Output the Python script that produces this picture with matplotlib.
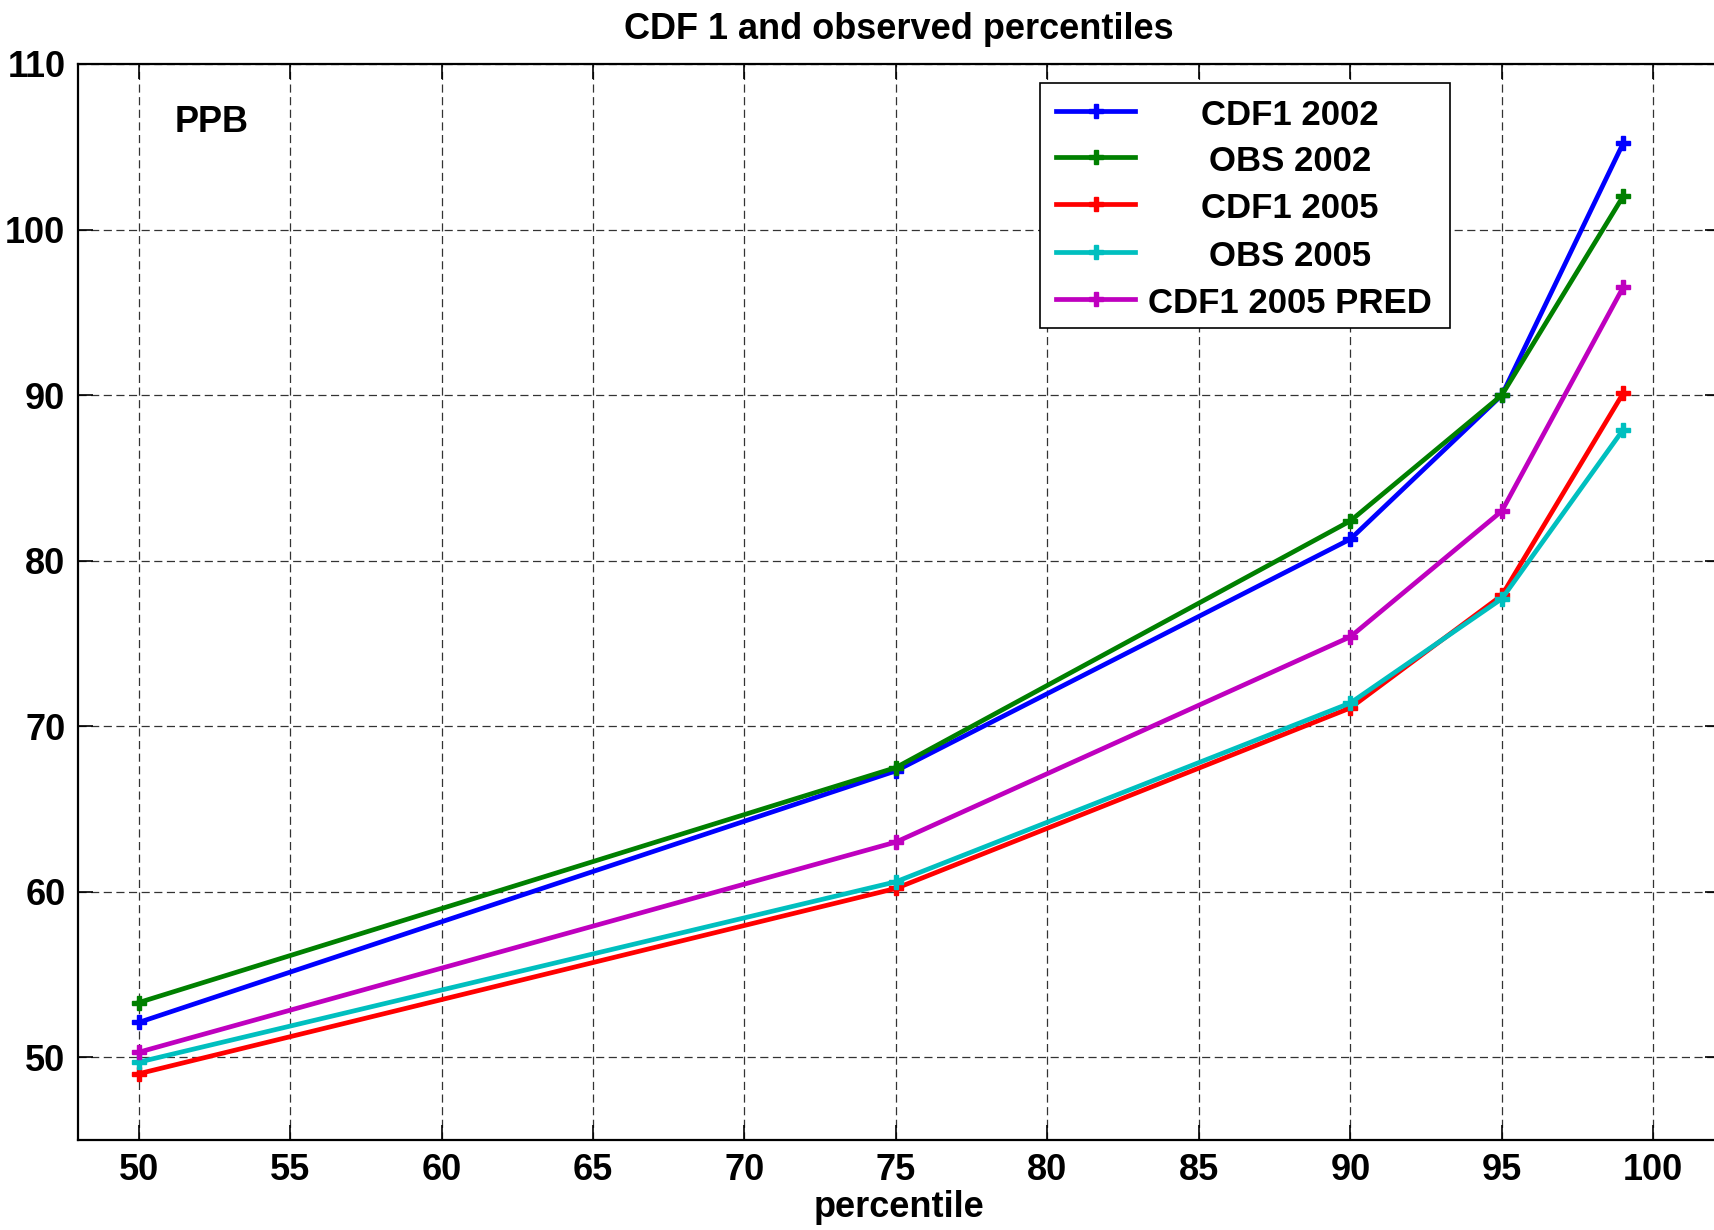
import matplotlib
matplotlib.use('Agg')
import matplotlib.pyplot as plt
from matplotlib.lines import Line2D
from matplotlib.patches import Rectangle

# percentile levels and ozone values (ppb)
pct = [50, 75, 90, 95, 99]
cdf1_2002 = [52.1, 67.3, 81.3, 90.0, 105.2]
obs_2002 = [53.3, 67.5, 82.4, 90.0, 102.0]
cdf1_2005 = [49.0, 60.2, 71.1, 77.9, 90.1]
obs_2005 = [49.7, 60.6, 71.4, 77.7, 87.9]
cdf1_2005_pred = [50.3, 63.0, 75.4, 83.0, 96.5]

names = ['CDF1 2002', 'OBS 2002', 'CDF1 2005', 'OBS 2005', 'CDF1 2005 PRED']
colors = ['#0000ff', '#008000', '#ff0000', '#00bfbf', '#bf00bf']
series = [cdf1_2002, obs_2002, cdf1_2005, obs_2005, cdf1_2005_pred]

xticks = [50, 55, 60, 65, 70, 75, 80, 85, 90, 95, 100]
yticks = [50, 60, 70, 80, 90, 100, 110]

plt.rcParams['font.family'] = ['Liberation Sans', 'DejaVu Sans']
plt.rcParams['font.weight'] = 'bold'
plt.rcParams['font.size'] = 26

W, H = 1715, 1230
fig = plt.figure(figsize=(W / 100, H / 100), dpi=100)
ax = fig.add_axes([78 / W, (H - 1140) / H, (1720 - 78) / W, (1140 - 64) / H])

for vals, c in zip(series, colors):
    ax.plot(pct, vals, color=c, lw=3.4, marker='P', ms=10.5, mec=c, mfc=c, zorder=3)

ax.set_xlim(48, 102.2)
ax.set_ylim(45, 110)
ax.set_xticks(xticks)
ax.set_yticks(yticks)
ax.grid(True, color='#333333', lw=0.9, linestyle=(0, (6.5, 3.6)))
ax.tick_params(direction='in', length=11, width=1.2, top=True, right=True, pad=9,
               labelsize=26)
for s in ax.spines.values():
    s.set_linewidth(1.6)

ax.set_title('CDF 1 and observed percentiles', fontsize=26, fontweight='bold', pad=18)
ax.set_xlabel('percentile', fontsize=26, fontweight='bold', labelpad=2)
ax.text(51.2, 105.9, 'PPB', fontsize=26, fontweight='bold', va='baseline')


# legend box with centered labels, placed in pixel positions
def fx(x):
    return x / W


def fy(y):
    return 1 - y / H


fig.patches.append(Rectangle((fx(1040), fy(328)), fx(1450) - fx(1040), fy(83) - fy(328),
                             transform=fig.transFigure, facecolor='white',
                             edgecolor='black', lw=1.2, zorder=5))
rows = [110.7, 156.7, 204, 252, 298.7]
for name, c, ry in zip(names, colors, rows):
    fig.lines.append(Line2D([fx(1056), fx(1135)], [fy(ry), fy(ry)], transform=fig.transFigure,
                            color=c, lw=3.4, zorder=6))
    fig.lines.append(Line2D([fx(1096)], [fy(ry)], transform=fig.transFigure, color=c,
                            marker='P', ms=10.5, zorder=6))
    fig.text(fx(1290), fy(ry + 14), name, ha='center', va='baseline', fontsize=25,
             fontweight='bold', zorder=7)

fig.savefig('out.png', dpi=100)
